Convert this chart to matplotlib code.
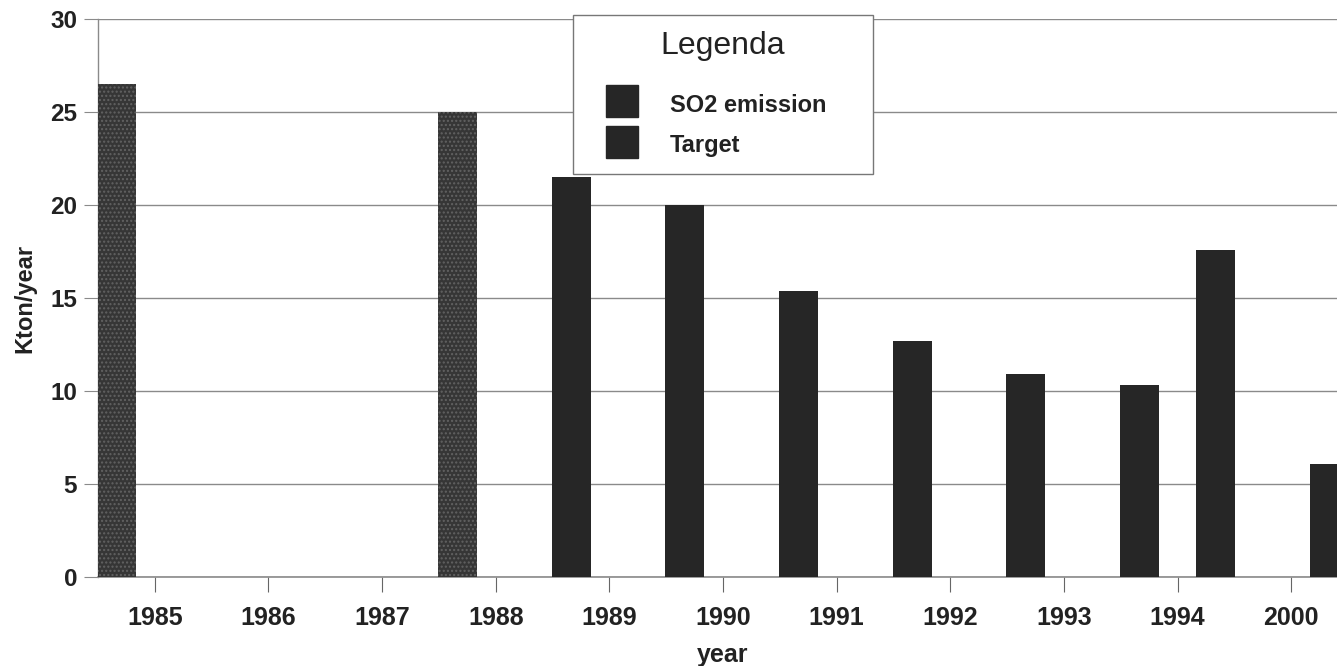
import numpy as np
import matplotlib
matplotlib.use('Agg')
import matplotlib.pyplot as plt
from matplotlib.lines import Line2D

plt.rcParams['font.family'] = ['Liberation Sans', 'DejaVu Sans']

# data
years = ['1985', '1986', '1987', '1988', '1989', '1990', '1991', '1992', '1993', '1994', '2000']
so2_emission = [26.5, np.nan, np.nan, 25.0, 21.5, 20.0, 15.4, 12.7, 10.9, 10.3, np.nan]
target = [np.nan, np.nan, np.nan, np.nan, np.nan, np.nan, np.nan, np.nan, np.nan, 17.6, 6.1]
yticks = [0, 5, 10, 15, 20, 25, 30]

dark = '#262626'
speckled = ['1985', '1988']  # these bars have the grainy grey texture

fig = plt.figure(figsize=(13.37, 6.66), dpi=100)
ax = fig.add_axes([0.0733, 0.1336, 0.935, 0.8378])

x = np.arange(len(years))
w = 0.343
off = 0.335

for i, yr in enumerate(years):
    v = so2_emission[i]
    if np.isnan(v):
        continue
    if yr in speckled:
        ax.bar(x[i] - off, v, w, color='#363636', edgecolor='#626262',
               hatch='....', linewidth=0, zorder=3)
    else:
        ax.bar(x[i] - off, v, w, color=dark, linewidth=0, zorder=3)

t = np.array(target)
ax.bar(x + off, t, w, color=dark, linewidth=0, zorder=3)

ax.set_xlim(-0.5, len(years) - 0.5)
ax.set_ylim(0, 30)
ax.set_yticks(yticks)
ax.set_xticks(x)
ax.set_xticklabels(years)

ax.yaxis.grid(True, color='#8a8a8a', linewidth=1)
ax.set_axisbelow(True)
for s in ['top', 'right']:
    ax.spines[s].set_visible(False)
ax.spines['left'].set_color('#8a8a8a')
ax.spines['bottom'].set_color('#8a8a8a')
ax.spines['left'].set_linewidth(1)
ax.spines['bottom'].set_linewidth(1.2)

ax.tick_params(axis='y', length=10, color='#8a8a8a', pad=5, labelsize=17.5, labelcolor='#222222')
ax.tick_params(axis='x', length=11, color='#666666', pad=10, labelsize=18, labelcolor='#222222')
for lab in ax.get_xticklabels() + ax.get_yticklabels():
    lab.set_fontweight('bold')

ax.set_xlabel('year', fontsize=18, fontweight='bold', color='#222222', labelpad=9)
ax.set_ylabel('Kton/year', fontsize=17, fontweight='bold', color='#222222', labelpad=10)

# square markers as legend swatches, so they can sit inset from the frame
handles = [Line2D([], [], linestyle='none', marker='s', markersize=23.5,
                  markerfacecolor=dark, markeredgecolor=dark, label='SO2 emission'),
           Line2D([], [], linestyle='none', marker='s', markersize=23.5,
                  markerfacecolor=dark, markeredgecolor=dark, label='Target')]
# trailing newline leaves the gap under the title
leg = fig.legend(handles=handles, title='Legenda\n', loc='upper left',
                 bbox_to_anchor=(573 / 1337, 1 - 173 / 666, 300 / 1337, 158 / 666),
                 mode='expand', frameon=True, fancybox=False, framealpha=1,
                 edgecolor='#777777', fontsize=17, title_fontsize=23,
                 handlelength=2.75, handleheight=1.4, handletextpad=0.68,
                 borderpad=0.68, labelspacing=0.55, borderaxespad=0)
leg.get_title().set_linespacing(0.42)
for txt in leg.get_texts():
    txt.set_fontweight('bold')
    txt.set_color('#222222')
leg.get_title().set_color('#222222')
leg.get_frame().set_linewidth(1)

fig.savefig('out.png', dpi=100)
